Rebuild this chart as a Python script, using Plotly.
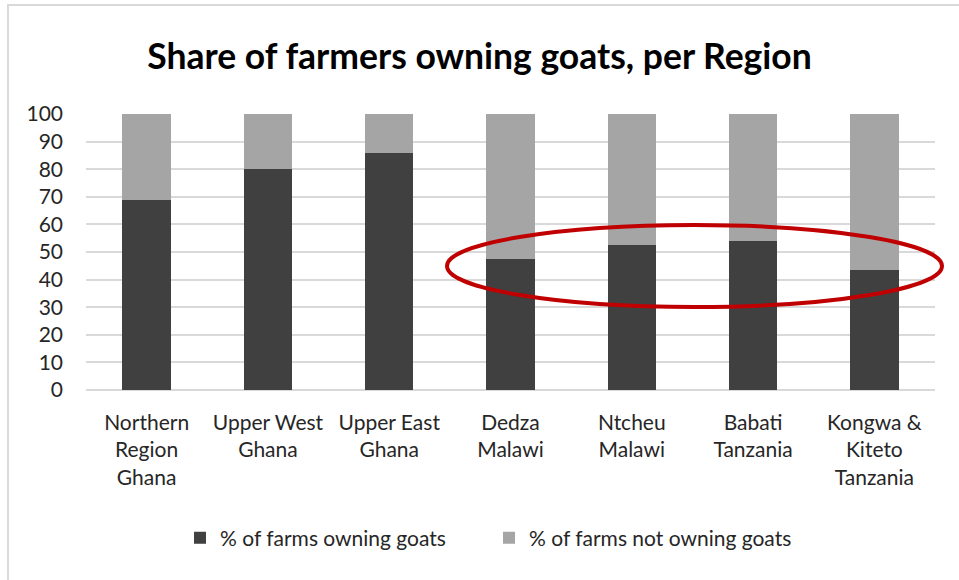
import plotly.graph_objects as go

# Regions and shares (%) of farms owning / not owning goats
regions = [
    "Northern<br>Region<br>Ghana",
    "Upper West<br>Ghana",
    "Upper East<br>Ghana",
    "Dedza<br>Malawi",
    "Ntcheu<br>Malawi",
    "Babati<br>Tanzania",
    "Kongwa &<br>Kiteto<br>Tanzania",
]
owning = [69, 80, 86, 47.3, 52.5, 54, 43.3]
not_owning = [round(100 - v, 1) for v in owning]
y_ticks = list(range(0, 101, 10))

W, H = 959, 580
ML, MR, MT, MB = 86, 24, 114, 190
FONT = "Lato"

fig = go.Figure()
fig.add_trace(go.Bar(
    x=regions, y=owning, name="% of farms owning goats",
    marker=dict(color="#404040", line=dict(width=0)),
))
fig.add_trace(go.Bar(
    x=regions, y=not_owning, name="% of farms not owning goats",
    marker=dict(color="#A5A5A5", line=dict(width=0)),
))

pw = W - ML - MR
ph = H - MT - MB


def px_to_paper(xp, yp):
    return (xp - ML) / pw, (H - MB - yp) / ph


# highlight ellipse around the Malawi / Tanzania bars
ex0, ey1 = px_to_paper(447, 225)
ex1, ey0 = px_to_paper(942, 307)
fig.add_shape(type="circle", xref="paper", yref="paper",
              x0=ex0, x1=ex1, y0=ey0, y1=ey1,
              line=dict(color="#C00000", width=4), layer="above")

# outer chart frame
bx0, by1 = px_to_paper(8, 5)
bx1, by0 = px_to_paper(W + 20, H + 20)
fig.add_shape(type="rect", xref="paper", yref="paper",
              x0=bx0, x1=bx1, y0=by0, y1=by1,
              line=dict(color="#D9D9D9", width=2), layer="below")

lx, ly = px_to_paper(180, 538)

fig.update_layout(
    width=W, height=H,
    margin=dict(l=ML, r=MR, t=MT, b=MB),
    barmode="stack", bargap=0.6,
    plot_bgcolor="white", paper_bgcolor="white",
    font=dict(family=FONT, size=21, color="#262626"),
    title=dict(text="<b>Share of farmers owning goats, per Region</b>",
               x=0.5, xanchor="center", y=1 - 57 / H, yanchor="middle",
               font=dict(family=FONT, size=35.5, color="#000000")),
    legend=dict(orientation="h", x=lx, xanchor="left", y=ly, yanchor="middle",
                traceorder="normal",
                font=dict(family=FONT, size=21, color="#262626"),
                itemwidth=30, tracegroupgap=0, entrywidth=264,
                entrywidthmode="pixels"),
    xaxis=dict(showgrid=False, showline=False, ticks="", tickfont=dict(size=21),
               ticklabelstandoff=18),
    yaxis=dict(range=[0, 100], tickvals=y_ticks, showgrid=True,
               gridcolor="#D9D9D9", gridwidth=1.5, zeroline=True,
               zerolinecolor="#D9D9D9", zerolinewidth=1.5, showline=False,
               tickfont=dict(size=21), ticklabelstandoff=22),
    showlegend=True,
)

fig.write_html("out.html")
